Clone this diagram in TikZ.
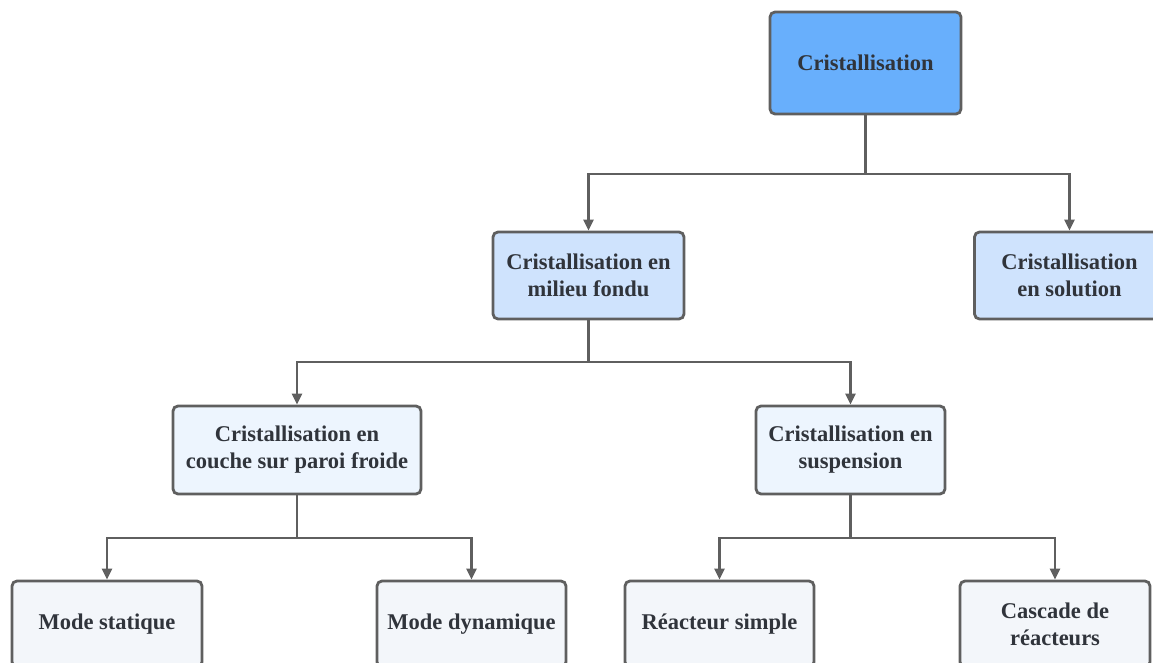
\documentclass[tikz,border=0pt]{standalone}
\usepackage{fontspec}
\setmainfont{Liberation Serif}
\usetikzlibrary{arrows.meta,calc}
\definecolor{topfill}{HTML}{68AFFC}
\definecolor{l2fill}{HTML}{CFE3FD}
\definecolor{l3fill}{HTML}{EDF5FE}
\definecolor{l4fill}{HTML}{F3F6FA}
\definecolor{edgecol}{HTML}{5F5F5F}
\definecolor{txtcol}{HTML}{30343B}
\tikzset{
  box/.style={draw=edgecol, line width=2.8pt, rounded corners=5pt, align=center,
    text=txtcol, font=\fontsize{22.5pt}{27pt}\selectfont\bfseries, inner sep=0pt},
  conn/.style={draw=edgecol, line width=2.6pt, -{Triangle[length=11pt,width=10pt]}}
}
\begin{document}
\begin{tikzpicture}[x=1pt,y=-1pt]
\useasboundingbox (0,0) rectangle (1153,663);
\clip (0,0) rectangle (1153,663);
\node[box, fill=topfill, minimum width=191pt, minimum height=102pt] (top) at (865.5,63) {Cristallisation};
\node[box, fill=l2fill, minimum width=191pt, minimum height=87pt] (mf) at (588.5,275.5) {Cristallisation en\\milieu fondu};
\node[box, fill=l2fill, minimum width=190pt, minimum height=87pt] (sol) at (1069.5,275.5) {Cristallisation\\en solution};
\node[box, fill=l3fill, minimum width=248pt, minimum height=88pt] (cpf) at (297,450) {Cristallisation en\\couche sur paroi froide};
\node[box, fill=l3fill, minimum width=189pt, minimum height=88pt] (sus) at (850.5,450) {Cristallisation en\\suspension};
\node[box, fill=l4fill, minimum width=190pt, minimum height=86pt] (ms) at (107,624) {Mode statique};
\node[box, fill=l4fill, minimum width=189pt, minimum height=86pt] (md) at (471.5,624) {Mode dynamique};
\node[box, fill=l4fill, minimum width=189pt, minimum height=86pt] (rs) at (719.5,624) {R\'eacteur simple};
\node[box, fill=l4fill, minimum width=190pt, minimum height=86pt] (cr) at (1055,624) {Cascade de\\r\'eacteurs};
\coordinate (j1) at (865.5,174);
\coordinate (j2) at (588.5,362);
\coordinate (j3) at (297,538);
\coordinate (j4) at (850.5,538);
\draw[conn] (top.south) -- (j1) -| (mf.north);
\draw[conn] (top.south) -- (j1) -| (sol.north);
\draw[conn] (mf.south) -- (j2) -| (cpf.north);
\draw[conn] (mf.south) -- (j2) -| (sus.north);
\draw[conn] (cpf.south) -- (j3) -| (ms.north);
\draw[conn] (cpf.south) -- (j3) -| (md.north);
\draw[conn] (sus.south) -- (j4) -| (rs.north);
\draw[conn] (sus.south) -- (j4) -| (cr.north);
\end{tikzpicture}
\end{document}
